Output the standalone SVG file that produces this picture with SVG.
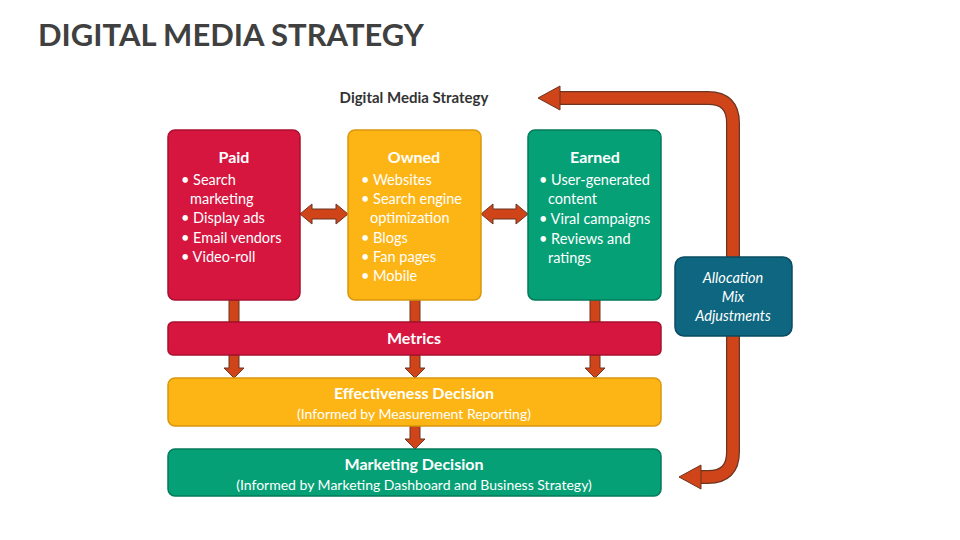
<svg xmlns="http://www.w3.org/2000/svg" width="960" height="540" viewBox="0 0 960 540">
<style>
text{font-family:Lato,"Liberation Sans",sans-serif;fill:#fff}
.h{font-weight:bold;font-size:16px;text-anchor:middle}
.b{font-size:14.5px}
.red{fill:#D6163F;stroke:#A8102F;stroke-width:1.5}
.org{fill:#FDB515;stroke:#D9970C;stroke-width:1.5}
.grn{fill:#06A077;stroke:#047A5A;stroke-width:1.5}
.arr{fill:#CF4419;stroke:#6b3522;stroke-width:1}
</style>
<rect width="960" height="540" fill="#fff"/>
<text x="38" y="46" style="fill:#404040;font-weight:bold;font-size:31px">DIGITAL MEDIA STRATEGY</text>
<text x="414" y="103" style="fill:#333;font-weight:bold;font-size:15px;text-anchor:middle">Digital Media Strategy</text>
<g id="connectors">
<path d="M560,98 H708 Q733,98 733,123 V452 Q733,477 708,477 H700" fill="none" stroke="#6b3522" stroke-width="14"/>
<path d="M559,98 H708 Q733,98 733,123 V452 Q733,477 708,477 H699" fill="none" stroke="#CF4419" stroke-width="11.5"/>
<polygon class="arr" points="560,86 538,98 560,110"/>
<polygon class="arr" points="701,465 679,477 701,489"/>
<polygon class="arr" points="300,214 312,204 312,209 336,209 336,204 348,214 336,224 336,219 312,219 312,224"/>
<polygon class="arr" points="481,214 493,204 493,209 516,209 516,204 528,214 516,224 516,219 493,219 493,224"/>
<rect class="arr" x="229" y="300" width="10" height="22"/>
<rect class="arr" x="410" y="300" width="10" height="22"/>
<rect class="arr" x="590" y="300" width="10" height="22"/>
<polygon class="arr" points="229,355 239,355 239,368 244,368 234,378 224,368 229,368"/>
<polygon class="arr" points="410,355 420,355 420,368 425,368 415,378 405,368 410,368"/>
<polygon class="arr" points="590,355 600,355 600,368 605,368 595,378 585,368 590,368"/>
<polygon class="arr" points="410,426 420,426 420,439 425,439 415,449 405,439 410,439"/>
</g>
<g id="paid">
<rect class="red" x="168" y="130" width="132" height="170" rx="7"/>
<text class="h" x="234" y="163">Paid</text>
<text class="b" x="181" y="185">• Search</text>
<text class="b" x="190" y="204">marketing</text>
<text class="b" x="181" y="223">• Display ads</text>
<text class="b" x="181" y="243">• Email vendors</text>
<text class="b" x="181" y="262">• Video-roll</text>
</g>
<g id="owned">
<rect class="org" x="348" y="130" width="133" height="170" rx="7"/>
<text class="h" x="414" y="163">Owned</text>
<text class="b" x="361" y="185">• Websites</text>
<text class="b" x="361" y="204">• Search engine</text>
<text class="b" x="370" y="223">optimization</text>
<text class="b" x="361" y="243">• Blogs</text>
<text class="b" x="361" y="262">• Fan pages</text>
<text class="b" x="361" y="281">• Mobile</text>
</g>
<g id="earned">
<rect class="grn" x="528" y="130" width="133" height="170" rx="7"/>
<text class="h" x="595" y="163">Earned</text>
<text class="b" x="539" y="185">• User-generated</text>
<text class="b" x="548" y="204">content</text>
<text class="b" x="539" y="224">• Viral campaigns</text>
<text class="b" x="539" y="244">• Reviews and</text>
<text class="b" x="548" y="263">ratings</text>
</g>
<g id="metrics">
<rect class="red" x="168" y="322" width="493" height="33" rx="5"/>
<text class="h" x="414" y="344">Metrics</text>
</g>
<g id="effectiveness">
<rect class="org" x="168" y="378" width="493" height="48" rx="7"/>
<text class="h" x="414" y="399">Effectiveness Decision</text>
<text x="414" y="419" style="font-size:14px;text-anchor:middle">(Informed by Measurement Reporting)</text>
</g>
<g id="marketing">
<rect class="grn" x="168" y="449" width="493" height="47" rx="7"/>
<text class="h" x="414" y="470">Marketing Decision</text>
<text x="414" y="490" style="font-size:14px;text-anchor:middle">(Informed by Marketing Dashboard and Business Strategy)</text>
</g>
<g id="allocation">
<rect x="675" y="257" width="117" height="79" rx="9" fill="#0E6680" stroke="#0A4C60" stroke-width="1.5"/>
<text x="733" y="283" style="font-size:14.5px;font-style:italic;text-anchor:middle">Allocation</text>
<text x="733" y="302" style="font-size:14.5px;font-style:italic;text-anchor:middle">Mix</text>
<text x="733" y="321" style="font-size:14.5px;font-style:italic;text-anchor:middle">Adjustments</text>
</g>
</svg>
